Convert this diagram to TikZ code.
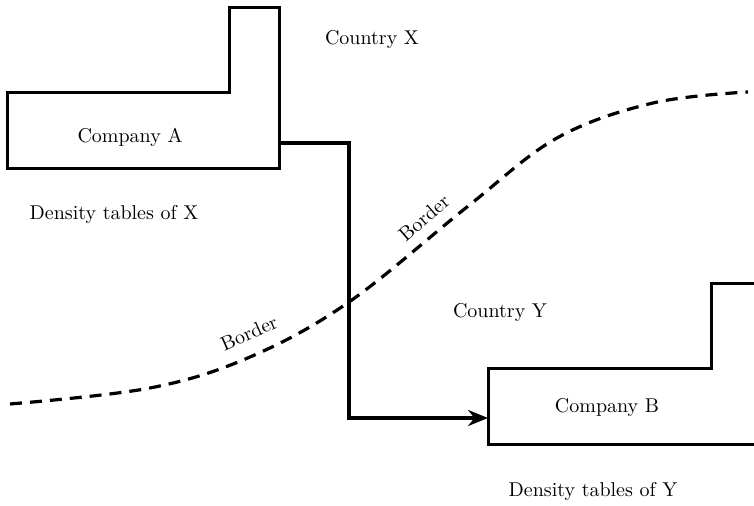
\documentclass[tikz,border=0pt]{standalone}
\usetikzlibrary{arrows.meta, positioning}

\begin{document}
\begin{tikzpicture}[x=0.5pt, y=-0.5pt,
  outline/.style={line width=1.5pt, line join=miter},
  flow/.style={line width=2.2pt, -{Stealth[length=10pt, width=8pt]}},
  border/.style={line width=1.6pt, dash pattern=on 6pt off 4pt},
  label/.style={font=\normalsize, inner sep=1pt}]

\useasboundingbox (0,0) rectangle (754,506);

% the two company outlines
\draw[outline] (7,93) -- (229,93) -- (229,8) -- (279,8) -- (279,169) -- (7,169) -- cycle;
\draw[outline] (760,284) -- (711,284) -- (711,369) -- (488,369) -- (488,445) -- (760,445);

\node[label] (compA) at (130,137) {Company A};
\node[label] (compB) at (607,408) {Company B};
\node[label] (countryX) at (372,40) {Country X};
\node[label] (countryY) at (500,313) {Country Y};
\node[label] (densX) at (114,215) {Density tables of X};
\node[label] (densY) at (593,492) {Density tables of Y};

% border between the countries
\draw[border] plot[smooth, tension=0.6] coordinates {(10,404) (150,388) (250,357) (349,302) (467,207) (557,138) (653,103) (748,92)};
\node[label, rotate=24] (bordLow) at (249,333) {Border};
\node[label, rotate=41] (bordHigh) at (424,218) {Border};

% flow from A to B
\coordinate (outA) at (279,143);
\coordinate (inB) at (488,418);
\draw[flow] (outA) -- ++(70,0) |- (inB);

\end{tikzpicture}
\end{document}
